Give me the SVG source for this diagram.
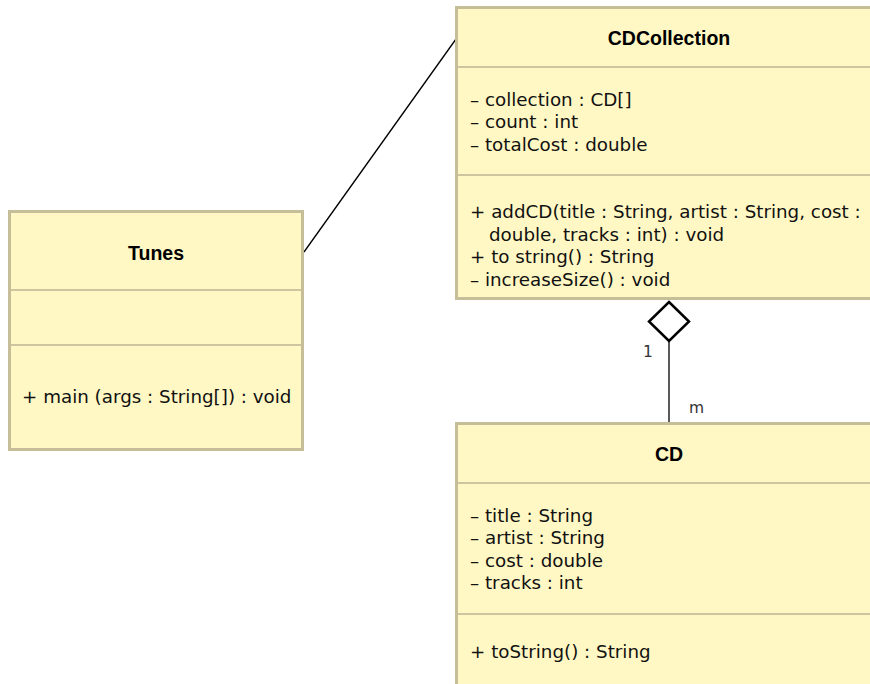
<svg xmlns="http://www.w3.org/2000/svg" width="870" height="684" viewBox="0 0 870 684">
  <style>
    .box { fill: #fff8c4; stroke: #c6be98; stroke-width: 3; }
    .div { stroke: #cdc5a0; stroke-width: 2; }
    .title { font-family: "Liberation Sans", Arial, sans-serif; font-weight: bold; font-size: 19.5px; fill: #000; text-anchor: middle; }
    .mem { font-family: "DejaVu Sans", Verdana, sans-serif; font-size: 18.3px; fill: #111; }
    .mult { font-family: "DejaVu Sans", Verdana, sans-serif; font-size: 15.5px; fill: #333; }
    .edge { stroke: #000; stroke-width: 1.3; fill: none; }
  </style>
  <rect width="870" height="684" fill="#fff"/>

  <g id="connectors">
    <line class="edge" x1="304" y1="252" x2="456" y2="39"/>
    <line class="edge" x1="669" y1="341" x2="669" y2="423"/>
    <polygon points="669,302 689,321.5 669,341 649,321.5" fill="#fff" stroke="#000" stroke-width="2.5"/>
    <text class="mult" x="643" y="357">1</text>
    <text class="mult" x="689" y="413">m</text>
  </g>

  <g id="tunes">
    <rect class="box" x="9.5" y="211.5" width="293" height="238"/>
    <line class="div" x1="11" y1="290" x2="301" y2="290"/>
    <line class="div" x1="11" y1="345" x2="301" y2="345"/>
    <text class="title" x="156" y="260">Tunes</text>
    <text class="mem" x="22" y="403">+ main (args : String[]) : void</text>
  </g>

  <g id="cdcollection">
    <rect class="box" x="456.5" y="7.5" width="420" height="291"/>
    <line class="div" x1="458" y1="67" x2="872" y2="67"/>
    <line class="div" x1="458" y1="175" x2="872" y2="175"/>
    <text class="title" x="669" y="45">CDCollection</text>
    <text class="mem" x="470" y="106">– collection : CD[]</text>
    <text class="mem" x="470" y="128">– count : int</text>
    <text class="mem" x="470" y="151">– totalCost : double</text>
    <text class="mem" x="470" y="218">+ addCD(title : String, artist : String, cost :</text>
    <text class="mem" x="489" y="241">double, tracks : int) : void</text>
    <text class="mem" x="470" y="263">+ to string() : String</text>
    <text class="mem" x="470" y="286">– increaseSize() : void</text>
  </g>

  <g id="cd">
    <rect class="box" x="456.5" y="423.5" width="420" height="280"/>
    <line class="div" x1="458" y1="483" x2="872" y2="483"/>
    <line class="div" x1="458" y1="614" x2="872" y2="614"/>
    <text class="title" x="669" y="461">CD</text>
    <text class="mem" x="470" y="522">– title : String</text>
    <text class="mem" x="470" y="544">– artist : String</text>
    <text class="mem" x="470" y="567">– cost : double</text>
    <text class="mem" x="470" y="589">– tracks : int</text>
    <text class="mem" x="470" y="658">+ toString() : String</text>
  </g>
</svg>
